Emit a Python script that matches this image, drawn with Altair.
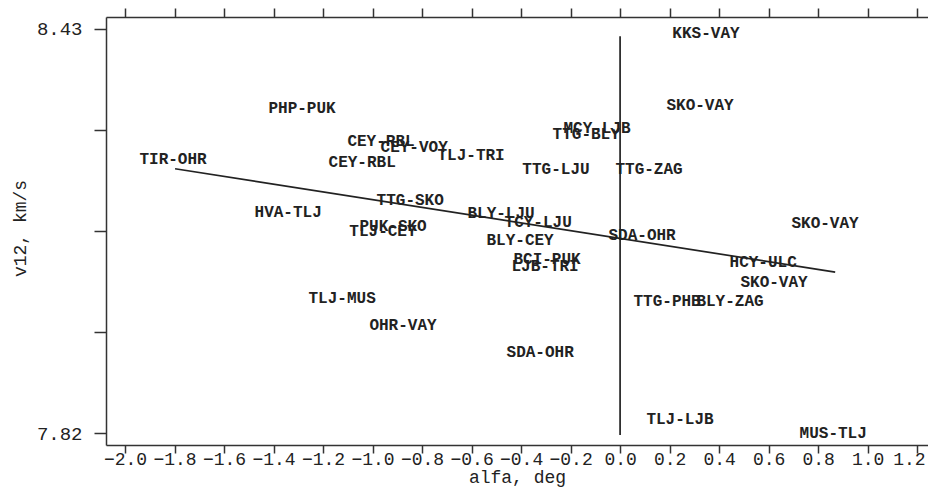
import altair as alt
import pandas as pd

# station-pair labels and their (alfa, v12) positions
labels = ["KKS-VAY", "SKO-VAY", "PHP-PUK", "MCY-LJB", "TTG-BLY", "CEY-RBL", "CEY-VOY",
          "TLJ-TRI", "TIR-OHR", "CEY-RBL", "TTG-LJU", "TTG-ZAG", "TTG-SKO", "HVA-TLJ",
          "BLY-LJU", "TCY-LJU", "SKO-VAY", "PUK-SKO", "TLJ-CEY", "SDA-OHR", "BLY-CEY",
          "BCI-PUK", "LJB-TRI", "HCY-ULC", "SKO-VAY", "TLJ-MUS", "TTG-PHB", "BLY-ZAG",
          "OHR-VAY", "SDA-OHR", "TLJ-LJB", "MUS-TLJ"]
alfa = [0.347, 0.323, -1.285, -0.093, -0.137, -0.966, -0.832,
        -0.602, -1.806, -1.042, -0.259, 0.117, -0.848, -1.341,
        -0.481, -0.331, 0.828, -0.917, -0.958, 0.089, -0.404,
        -0.295, -0.303, 0.578, 0.622, -1.123, 0.190, 0.444,
        -0.877, -0.323, 0.242, 0.861]
v12 = [8.424, 8.315, 8.311, 8.280, 8.271, 8.261, 8.252,
       8.240, 8.234, 8.229, 8.219, 8.219, 8.172, 8.154,
       8.152, 8.138, 8.137, 8.132, 8.125, 8.119, 8.111,
       8.083, 8.072, 8.078, 8.048, 8.024, 8.019, 8.019,
       7.983, 7.942, 7.841, 7.820]

# regression line end points
fit_alfa = [-1.798, 0.869]
fit_v12 = [8.219, 8.063]

# vertical reference line at alfa = 0
zero_alfa = [0.0]
zero_top = [8.419]
zero_bottom = [7.817]

x_ticks = [-2.0, -1.8, -1.6, -1.4, -1.2, -1.0, -0.8, -0.6, -0.4, -0.2,
           0.0, 0.2, 0.4, 0.6, 0.8, 1.0, 1.2]
y_ticks = [7.82, 7.9725, 8.125, 8.2775, 8.43]
y_tick_labels = ["7.82", "", "", "", "8.43"]

df = pd.DataFrame({"label": labels, "alfa": alfa, "v12": v12, "id": range(len(labels))})
fit_df = pd.DataFrame({"alfa": fit_alfa, "v12": fit_v12})
zero_df = pd.DataFrame({"alfa": zero_alfa, "top": zero_top, "bottom": zero_bottom})

label_expr = "abs(datum.value - 8.43) < 0.001 ? '%s' : abs(datum.value - 7.82) < 0.001 ? '%s' : ''" % (
    y_tick_labels[4], y_tick_labels[0])

FONT = "Liberation Mono"
INK = "#222222"
AX = "#333333"

xs = alt.Scale(domain=[-2.077, 1.244], nice=False, zero=False)
ys = alt.Scale(domain=[7.802, 8.448], nice=False, zero=False)

bottom_axis = alt.Axis(orient="bottom", values=x_ticks, format=".1f", tickSize=8,
                       labelPadding=-3, labelFont=FONT, labelFontSize=18, labelColor=INK,
                       labelAlign={"condition": {"test": "datum.value > 1.1", "value": "right"},
                                   "value": "center"},
                       labelOffset={"condition": {"test": "datum.value > 1.1", "value": 8},
                                    "value": 0},
                       domainColor=AX, tickColor=AX, domainWidth=1.5, tickWidth=1.5,
                       grid=False, title="alfa, deg", titleFont=FONT, titleFontSize=18,
                       titleFontWeight="normal", titleColor=INK, titleY=32,
                       titleBaseline="middle", labelFlush=False, labelOverlap=False)
top_axis = alt.Axis(orient="top", values=x_ticks, labels=False, tickSize=9,
                    domainColor=AX, tickColor=AX, domainWidth=1.5, tickWidth=1.5,
                    grid=False, title=None)
y_axis = alt.Axis(orient="left", values=y_ticks, labelExpr=label_expr, tickSize=12,
                  labelPadding=12, labelFont=FONT, labelFontSize=19, labelColor=INK,
                  domainColor=AX, tickColor=AX, domainWidth=1.5, tickWidth=1.5,
                  grid=False, title="v12, km/s", titleFont=FONT, titleFontSize=18,
                  titleFontWeight="normal", titleColor=INK, titleX=-86, titleY=211,
                  titleAngle=270, titleAlign="center", titleBaseline="middle",
                  labelFlush=False, labelOverlap=False)

text = alt.Chart(df).mark_text(font=FONT, fontWeight="bold", fontSize=16, color=INK,
                               align="center", baseline="middle").encode(
    x=alt.X("alfa:Q", scale=xs, axis=bottom_axis),
    y=alt.Y("v12:Q", scale=ys, axis=y_axis),
    text="label:N",
    detail="id:N",
)

line = alt.Chart(fit_df).mark_line(color=INK, strokeWidth=1.7).encode(
    x=alt.X("alfa:Q", scale=xs, axis=top_axis),
    y=alt.Y("v12:Q", scale=ys),
)

rule = alt.Chart(zero_df).mark_rule(color=INK, strokeWidth=1.7).encode(
    x=alt.X("alfa:Q", scale=xs, axis=None),
    y=alt.Y("top:Q", scale=ys),
    y2="bottom:Q",
)

chart = alt.layer(text, line, rule).resolve_axis(x="independent").properties(
    width=822, height=428,
    padding={"left": 98, "top": 9, "right": 0, "bottom": 43},
    autosize=alt.AutoSizeParams(type="none"),
    background="white",
).configure_view(strokeWidth=0)

chart.save("out.html", embed_options={"renderer": "svg", "actions": False})
